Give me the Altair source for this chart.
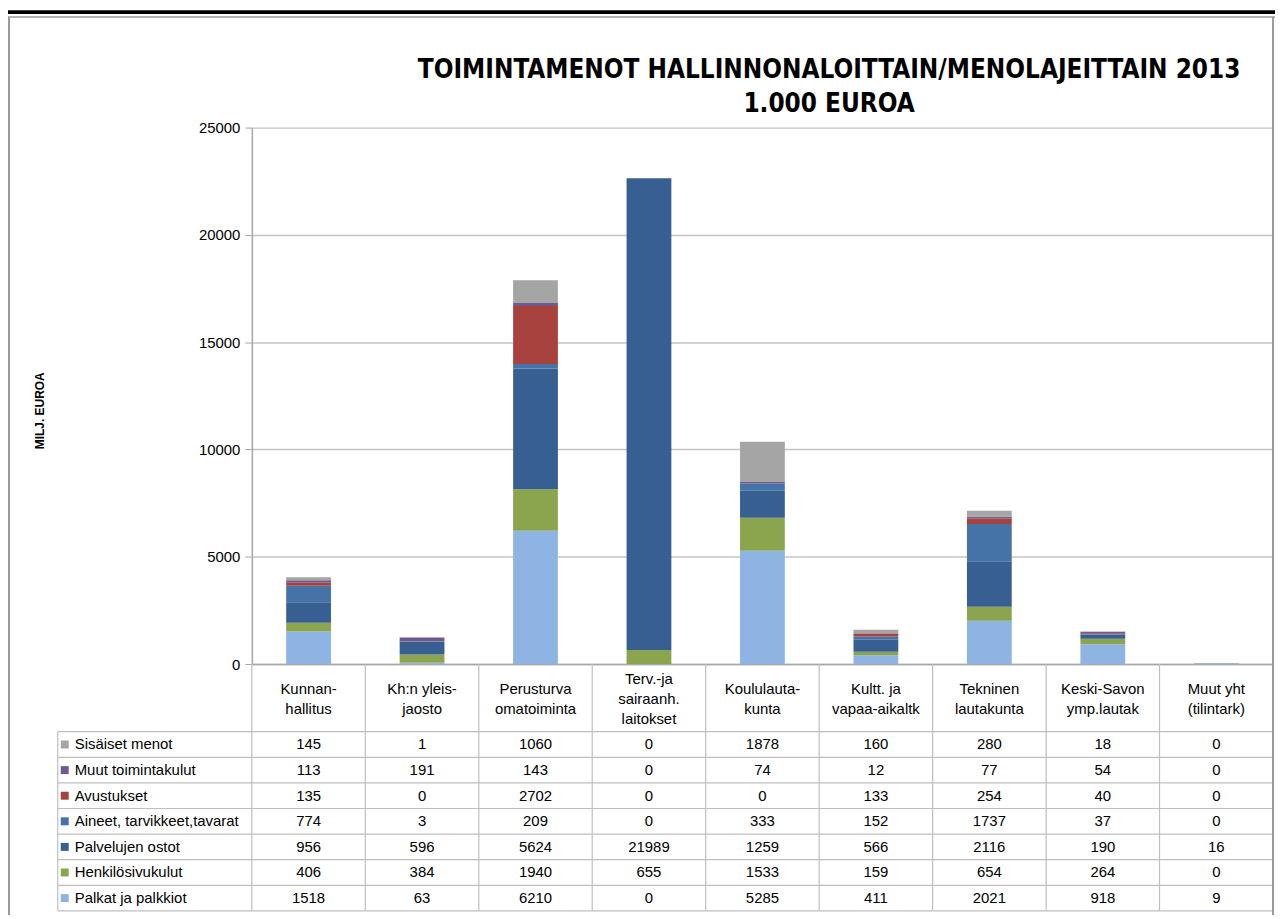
import altair as alt
import pandas as pd

categories = ["Kunnan-\nhallitus", "Kh:n yleis-\njaosto", "Perusturva\nomatoiminta",
              "Terv.-ja\nsairaanh.\nlaitokset", "Koululauta-\nkunta", "Kultt. ja\nvapaa-aikaltk",
              "Tekninen\nlautakunta", "Keski-Savon\nymp.lautak", "Muut yht\n(tilintark)"]
series = ["Palkat ja palkkiot", "Henkilösivukulut", "Palvelujen ostot",
          "Aineet, tarvikkeet,tavarat", "Avustukset", "Muut toimintakulut", "Sisäiset menot"]
palkat = [1518, 63, 6210, 0, 5285, 411, 2021, 918, 9]
henkilo = [406, 384, 1940, 655, 1533, 159, 654, 264, 0]
palvelut = [956, 596, 5624, 21989, 1259, 566, 2116, 190, 16]
aineet = [774, 3, 209, 0, 333, 152, 1737, 37, 0]
avustukset = [135, 0, 2702, 0, 0, 133, 254, 40, 0]
muut = [113, 191, 143, 0, 74, 12, 77, 54, 0]
sisaiset = [145, 1, 1060, 0, 1878, 160, 280, 18, 0]
colors = ["#8EB4E3", "#8BA54E", "#375F92", "#4572A7", "#A8423F", "#6F5A8E", "#A5A5A5"]
y_ticks = [0, 5000, 10000, 15000, 20000, 25000]
title_text = "TOIMINTAMENOT HALLINNONALOITTAIN/MENOLAJEITTAIN 2013\n1.000 EUROA"

all_values = [palkat, henkilo, palvelut, aineet, avustukset, muut, sisaiset]
rows = []
for k, (name, vals) in enumerate(zip(series, all_values)):
    for cat, v in zip(categories, vals):
        rows.append({"cat": cat, "series": name, "value": v, "k": k, "rc": k + 0.5})
df = pd.DataFrame(rows)

W, H = 1026, 539
FONT = "Liberation Sans"
FS = 15
tscale = alt.Scale(domain=[0, 7], range=[787, 607])
xenc = alt.X("cat:N", sort=categories,
             scale=alt.Scale(paddingInner=0, paddingOuter=0),
             axis=alt.Axis(labels=False, ticks=False, title=None, domainColor="#A6A6A6",
                           domainWidth=1.5))

bars = alt.Chart(df).mark_bar(size=45).encode(
    x=xenc,
    y=alt.Y("value:Q", stack="zero", scale=alt.Scale(domain=[0, 25000]),
            axis=alt.Axis(values=y_ticks, format="d", title="MILJ. EUROA", titleFont=FONT,
                          titleFontSize=12, titleFontWeight="bold", titleColor="#000000",
                          titleX=-206, titleY=284,
                          labelFont=FONT, labelFontSize=FS, labelColor="#000000",
                          tickSize=7, tickColor="#A6A6A6", labelPadding=5,
                          domainColor="#A6A6A6", domainWidth=1.5,
                          gridColor="#C4C4C4", gridWidth=1.4)),
    color=alt.Color("series:N", scale=alt.Scale(domain=series, range=colors), legend=None),
    order=alt.Order("k:Q", sort="ascending"),
)

# table values
cells = alt.Chart(df).mark_text(font=FONT, fontSize=FS, color="#000000").encode(
    x=alt.X("cat:N", sort=categories),
    y=alt.Y("rc:Q", scale=tscale, axis=None),
    text="value:Q",
)

labels_df = pd.DataFrame({"series": series, "rc": [k + 0.5 for k in range(len(series))]})
row_labels = alt.Chart(labels_df).mark_text(font=FONT, fontSize=FS, align="left", color="#000000").encode(
    x=alt.value(-178),
    y=alt.Y("rc:Q", scale=tscale, axis=None),
    text="series:N",
)
swatches = alt.Chart(labels_df).mark_square(size=64, opacity=1).encode(
    x=alt.value(-188),
    y=alt.Y("rc:Q", scale=tscale, axis=None),
    color=alt.Color("series:N", scale=alt.Scale(domain=series, range=colors), legend=None),
)

head_df = pd.DataFrame({"cat": categories})
headers = alt.Chart(head_df).transform_calculate(
    nlines="length(split(datum.cat, '\\n'))"
).transform_calculate(
    hy="8.284 + (datum.nlines - 1) * 0.389"
).mark_text(font=FONT, fontSize=FS, lineBreak="\n", lineHeight=20,
            baseline="middle", color="#000000").encode(
    x=alt.X("cat:N", sort=categories),
    y=alt.Y("hy:Q", scale=tscale, axis=None),
    text="cat:N",
)

vdf = pd.DataFrame({"cat": categories, "y0": [0.0] * len(categories), "y1": [9.646] * len(categories)})
vlines = alt.Chart(vdf).mark_rule(color="#BFBFBF", strokeWidth=1.2).encode(
    x=alt.X("cat:N", sort=categories, bandPosition=0),
    y=alt.Y("y0:Q", scale=tscale, axis=None),
    y2="y1:Q",
)
vlast = alt.Chart(vdf.tail(1)).mark_rule(color="#BFBFBF", strokeWidth=1.2).encode(
    x=alt.X("cat:N", sort=categories, bandPosition=1),
    y=alt.Y("y0:Q", scale=tscale, axis=None),
    y2="y1:Q",
)

hdf = pd.DataFrame({"rr": list(range(8))})
hlines = alt.Chart(hdf).mark_rule(color="#BFBFBF", strokeWidth=1.2).encode(
    x=alt.value(-195), x2=alt.value(W),
    y=alt.Y("rr:Q", scale=tscale, axis=None),
)
ldf = pd.DataFrame({"y0": [0], "y1": [7]})
lline = alt.Chart(ldf).mark_rule(color="#BFBFBF", strokeWidth=1.2).encode(
    x=alt.value(-195),
    y=alt.Y("y0:Q", scale=tscale, axis=None),
    y2="y1:Q",
)

# chart title
tdf = pd.DataFrame({"t": [title_text]})
title = alt.Chart(tdf).mark_text(
    font="Liberation Sans Narrow, DejaVu Sans Condensed, sans-serif", fontSize=26,
    fontWeight="bold", color="#000000", lineBreak="\n", lineHeight=34, baseline="middle",
    align="center").encode(x=alt.value(580), y=alt.value(-58), text="t:N")

# outer frame of the chart area
fdf = pd.DataFrame({"a": [0]})
frame_left = alt.Chart(fdf).mark_rule(color="#9A9A9A", strokeWidth=2).encode(
    x=alt.value(-244), y=alt.value(-111), y2=alt.value(H + 260))
frame_right = alt.Chart(fdf).mark_rule(color="#9A9A9A", strokeWidth=2).encode(
    x=alt.value(W), y=alt.value(-111), y2=alt.value(H + 260))
frame_top = alt.Chart(fdf).mark_rule(color="#9A9A9A", strokeWidth=1.5).encode(
    x=alt.value(-245), x2=alt.value(W + 2), y=alt.value(-111))
black_top = alt.Chart(fdf).mark_rule(color="#000000", strokeWidth=4).encode(
    x=alt.value(-245), x2=alt.value(W + 2), y=alt.value(-116))

chart = alt.layer(
    bars, vlines, vlast, hlines, lline, cells, row_labels, swatches, headers, title,
    frame_left, frame_right, frame_top, black_top,
).resolve_scale(y="independent").properties(
    width=W, height=H,
    autosize=alt.AutoSizeParams(type="none"),
    padding={"left": 245, "top": 118, "right": 2, "bottom": 250},
).configure_view(stroke=None)

chart.save("out.html", embed_options={"renderer": "svg", "actions": False})
